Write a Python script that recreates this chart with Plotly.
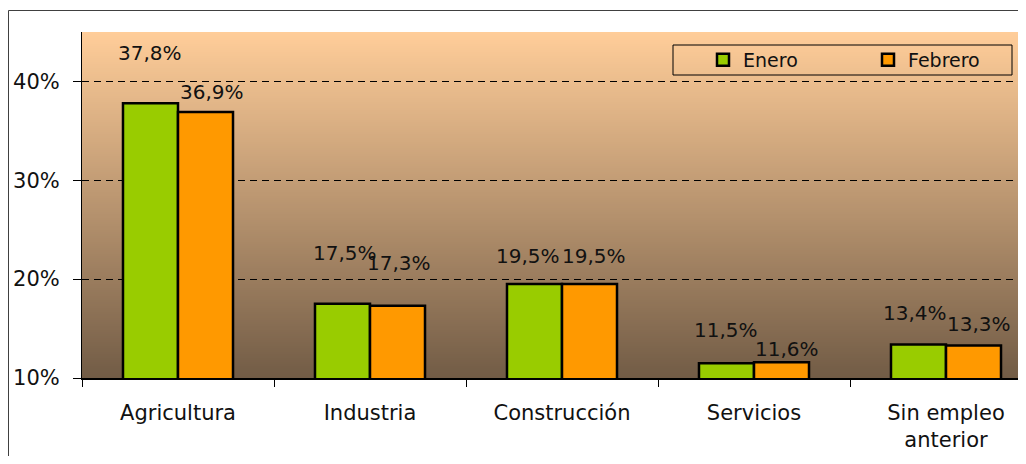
import plotly.graph_objects as go

categories = ["Agricultura", "Industria", "Construcción", "Servicios", "Sin empleo<br>anterior"]
enero = [37.8, 17.5, 19.5, 11.5, 13.4]
febrero = [36.9, 17.3, 19.5, 11.6, 13.3]
series_names = ["Enero", "Febrero"]

# label placement (pixel offsets from bar top / bar centre), styling only
label_dy = [[50, 51, 28, 33, 31], [20, 43, 28, 13, 21]]
label_dx = [[0, 3, -6, 0, -3], [6, 1, 4, 5, 5]]
legend_widths = [120, 80]

# the page body has an 8px margin, so the figure is drawn 8px in/down;
# keep the figure inside the window so no scrollbars appear
OFF = 8
W, H = 1026 - OFF, 464 - 2 * OFF
ML, MR, MT = 82 - OFF, 0, 32 - OFF
MB = H - (378 - OFF)
plot_w = W - ML - MR
plot_h = H - MT - MB
unit_px = 192.0
x_hi = -0.5 + plot_w / unit_px

FONT = "DejaVu Sans"
TXT = "#111111"
colors = ["#99CC00", "#FF9900"]

fig = go.Figure()
for name, vals, col, lw in zip(series_names, [enero, febrero], colors, legend_widths):
    fig.add_trace(go.Bar(
        name=name, x=categories, y=vals,
        marker=dict(color=col, line=dict(color="#000000", width=2.5)),
        hoverinfo="skip", legendwidth=lw,
    ))

bar_w_units = (1 - 0.427) / 2
annotations = []
for si, vals in enumerate([enero, febrero]):
    side = -1 if si == 0 else 1
    for ci, v in enumerate(vals):
        annotations.append(dict(
            x=categories[ci], y=v, xref="x", yref="y",
            text=f"{v:.1f}%".replace(".", ","),
            showarrow=False, xanchor="center", yanchor="middle",
            xshift=side * bar_w_units / 2 * unit_px + label_dx[si][ci],
            yshift=label_dy[si][ci],
            font=dict(family=FONT, size=20, color=TXT),
        ))

# vertical gradient background (peach -> brown)
top = (255, 205, 153)
bot = (114, 92, 70)
n = 173
shapes = []
for i in range(n):
    t = i / (n - 1)
    c = tuple(round(top[k] + (bot[k] - top[k]) * t) for k in range(3))
    shapes.append(dict(
        type="rect", xref="x domain", yref="y domain",
        x0=0, x1=1, y1=1 - i / n, y0=1 - (i + 1) / n - 0.002,
        fillcolor=f"rgb{c}", line=dict(width=0), layer="below",
    ))

# helpers: screen (reference) pixel -> paper fraction
def px_x(px):
    return (px - OFF - ML) / plot_w

def px_y(py):
    return (H - MB - (py - OFF)) / plot_h

shapes.append(dict(type="rect", xref="paper", yref="paper",
                   x0=px_x(673), x1=px_x(1012), y0=px_y(75), y1=px_y(45),
                   line=dict(color="#000000", width=1), fillcolor="rgba(0,0,0,0)"))
shapes.append(dict(type="rect", xref="paper", yref="paper",
                   x0=px_x(8.5), x1=px_x(1040), y0=px_y(480), y1=px_y(10.5),
                   line=dict(color="#404040", width=1), fillcolor="rgba(0,0,0,0)"))

fig.update_layout(
    width=W, height=H, autosize=False,
    margin=dict(l=ML, r=MR, t=MT, b=MB, autoexpand=False),
    paper_bgcolor="#FFFFFF",
    plot_bgcolor="rgba(0,0,0,0)",
    barmode="group", bargap=0.427, bargroupgap=0,
    font=dict(family=FONT, size=21, color=TXT),
    showlegend=True,
    legend=dict(orientation="h", x=px_x(703), xanchor="left",
                y=px_y(60), yanchor="middle",
                bgcolor="rgba(0,0,0,0)", borderwidth=0,
                font=dict(family=FONT, size=19, color=TXT),
                traceorder="normal"),
    shapes=shapes,
    annotations=annotations,
    xaxis=dict(
        type="category", range=[-0.5, x_hi], automargin=False,
        showline=True, linecolor="#000000", linewidth=1.5,
        ticks="outside", tickson="boundaries", ticklen=7, tickcolor="#000000",
        showgrid=False, tickfont=dict(family=FONT, size=21, color=TXT),
        ticklabelstandoff=15,
    ),
    yaxis=dict(
        range=[10, 45], dtick=10, tick0=10, ticksuffix="%", automargin=False,
        showline=True, linecolor="#000000", linewidth=1,
        ticks="outside", ticklen=8, tickcolor="#000000",
        showgrid=True, gridcolor="#000000", gridwidth=1, griddash="7px,5px",
        zeroline=False, tickfont=dict(family=FONT, size=21, color=TXT),
        ticklabelstandoff=9,
    ),
)

fig.write_html("out.html", config={"displayModeBar": False, "responsive": False})
